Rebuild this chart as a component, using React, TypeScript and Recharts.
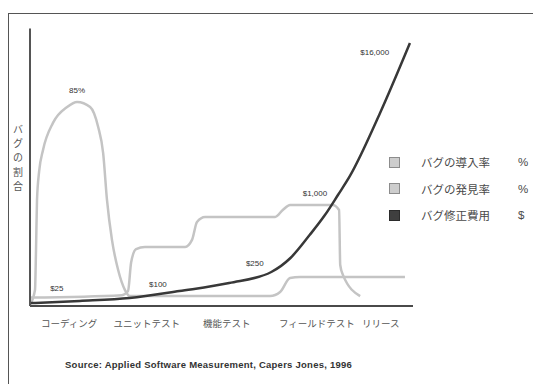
import { ComposedChart, Line, XAxis, YAxis, ReferenceDot, Legend } from 'recharts';

const FONT = "'Liberation Sans', 'Noto Sans CJK JP', sans-serif";

// x: position along the timeline (0-100), y: height on the chart (0-115)
const introX = [0, 1.3, 1.57, 1.83, 2.4, 3.4, 6, 9.7, 12.3, 15.7, 17.8, 19.1, 20.1, 21.4, 23, 24.8, 26.1, 62.7, 65.3, 67.9, 70.5, 97.9];
const introY = [0.5, 6.6, 23, 44, 56, 64.7, 75.9, 82.5, 84.6, 82.5, 74.2, 63.4, 44, 27.4, 15, 6.6, 4.1, 4.1, 5.8, 11.6, 12, 12];

const detectX = [0, 24, 25.6, 26.4, 27.7, 30, 40.5, 42.3, 43.6, 45.7, 64, 66, 67.9, 79, 80.7, 81, 81.7, 86.2];
const detectY = [3.5, 4.5, 6.2, 18, 23.6, 24.5, 24.5, 27.4, 34.8, 36.9, 36.9, 39.8, 41.9, 41.9, 39.8, 17, 12.9, 4.1];

const costX = [0, 13, 26, 39, 52, 63, 68, 73, 77, 80.4, 83.5, 91.4, 99.2];
const costY = [1.2, 2.1, 3.3, 6.2, 9.5, 14.1, 19.9, 29.4, 37.7, 46, 53.8, 80, 109];

const stageTicks = [10.2, 30.5, 51.4, 74.9, 91.6];
const stageNames = ['コーディング', 'ユニットテスト', '機能テスト', 'フィールドテスト', 'リリース'];

const noteX = [12.3, 7, 33.4, 58.7, 74.4, 90];
const noteY = [89.5, 7.5, 9.1, 17.8, 46.8, 105.3];
const noteText = ['85%', '$25', '$100', '$250', '$1,000', '$16,000'];

const legendNames = ['バグの導入率', 'バグの発見率', 'バグ修正費用'];
const legendUnits = ['%', '%', '$'];
const legendFill = ['#cdcdcd', '#cdcdcd', '#3f3f3f'];
const legendEdge = ['#8c8c8c', '#8c8c8c', '#2b2b2b'];

const yLabel = 'バグの割合';

const zip = (xs: number[], ys: number[]) => xs.map((x, i) => ({ x, y: ys[i] }));

function StageTick({ x, y, payload }: any) {
  const i = stageTicks.indexOf(payload.value);
  return (
    <text x={x} y={y + 19} textAnchor="middle" fontSize={9.5} fill="#555" fontFamily={FONT}>
      {stageNames[i]}
    </text>
  );
}

function LegendBox() {
  return (
    <div style={{ fontFamily: FONT, color: '#4a4a4a', fontSize: 11.5 }}>
      {legendNames.map((n, i) => (
        <div key={n} style={{ position: 'relative', height: 26.5, display: 'flex', alignItems: 'center', whiteSpace: 'nowrap' }}>
          <span style={{ width: 9, height: 9, background: legendFill[i], border: `1.5px solid ${legendEdge[i]}`, marginRight: 21 }} />
          <span>{n}</span>
          <span style={{ position: 'absolute', left: 129 }}>{legendUnits[i]}</span>
        </div>
      ))}
    </div>
  );
}

export default function App() {
  return (
    <div style={{ position: 'absolute', left: 0, top: 0, width: 533, height: 384, overflow: 'hidden', background: '#fff' }}>
      <div style={{ position: 'absolute', left: 8, top: 13, width: 600, height: 400, borderTop: '1.5px solid #555', borderLeft: '1.5px solid #555' }} />
      <ComposedChart width={533} height={384} margin={{ top: 28.6, right: 120, bottom: 48, left: 29 }}>
        <XAxis
          type="number"
          dataKey="x"
          domain={[0, 100]}
          ticks={stageTicks}
          interval={0}
          tick={StageTick}
          tickLine={false}
          tickSize={0}
          axisLine={{ stroke: '#4a4a4a', strokeWidth: 2 }}
          height={30}
          allowDataOverflow
        />
        <YAxis
          type="number"
          domain={[0, 115]}
          width={1}
          tick={false}
          tickLine={false}
          axisLine={{ stroke: '#555', strokeWidth: 2 }}
          allowDataOverflow
        />
        <Legend
          layout="horizontal"
          verticalAlign="middle"
          align="center"
          content={LegendBox}
          wrapperStyle={{ left: 389, top: 149, width: 144 }}
        />
        <Line data={zip(introX, introY)} dataKey="y" name="intro" type="monotone" stroke="#c4c4c4" strokeWidth={2.5} dot={false} activeDot={false} isAnimationActive={false} />
        <Line data={zip(detectX, detectY)} dataKey="y" name="detect" type="monotone" stroke="#c4c4c4" strokeWidth={2.5} dot={false} activeDot={false} isAnimationActive={false} />
        <Line data={zip(costX, costY)} dataKey="y" name="cost" type="monotone" stroke="#383838" strokeWidth={2.5} dot={false} activeDot={false} isAnimationActive={false} />
        {noteText.map((t, i) => (
          <ReferenceDot
            key={t}
            x={noteX[i]}
            y={noteY[i]}
            r={0}
            fill="none"
            stroke="none"
            label={{ value: t, position: 'center', fontSize: 8, fill: '#333', fontFamily: FONT }}
          />
        ))}
      </ComposedChart>
      <svg width={30} height={384} style={{ position: 'absolute', left: 0, top: 0 }}>
        <text x={18} y={133} textAnchor="middle" fontSize={10} fill="#555" fontFamily={FONT}>
          {yLabel.split('').map((c, i) => (
            <tspan key={i} x={18} dy={i === 0 ? 0 : 14.2}>{c}</tspan>
          ))}
        </text>
      </svg>
      <div style={{ position: 'absolute', left: 65, top: 359, fontFamily: FONT, fontSize: 9.5, letterSpacing: 0.25, fontWeight: 'bold', color: '#333', whiteSpace: 'nowrap' }}>
        Source: Applied Software Measurement, Capers Jones, 1996
      </div>
    </div>
  );
}
